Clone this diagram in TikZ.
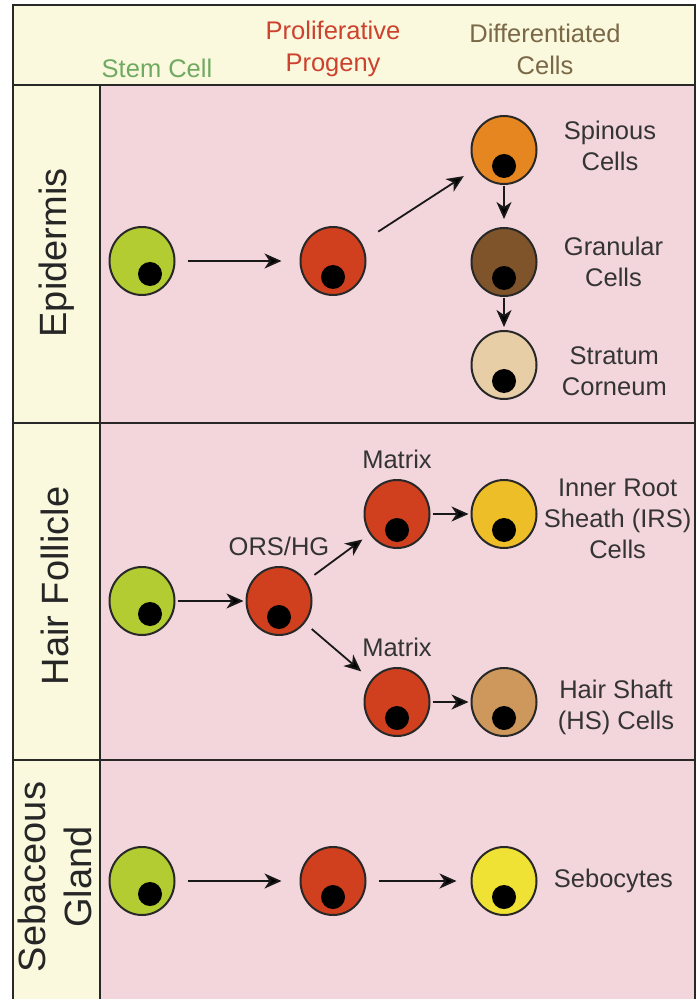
\documentclass[tikz,border=0pt]{standalone}
\usepackage{fontspec}
\setmainfont{Liberation Sans}
\usetikzlibrary{arrows.meta,positioning,shapes.geometric}

\definecolor{creamBg}{RGB}{250,248,221}
\definecolor{pinkBg}{RGB}{243,214,220}
\definecolor{rimc}{RGB}{40,40,40}
\definecolor{stemc}{RGB}{178,204,50}
\definecolor{progc}{RGB}{208,64,30}
\definecolor{spinc}{RGB}{230,134,32}
\definecolor{granc}{RGB}{128,84,42}
\definecolor{stratc}{RGB}{232,206,166}
\definecolor{irsc}{RGB}{238,190,40}
\definecolor{hsc}{RGB}{206,152,92}
\definecolor{sebc}{RGB}{240,226,52}
\definecolor{stemTxt}{RGB}{112,170,96}
\definecolor{progTxt}{RGB}{204,66,46}
\definecolor{diffTxt}{RGB}{122,104,70}
\definecolor{labelc}{RGB}{52,52,52}

\begin{document}
\begin{tikzpicture}[x=0.5pt,y=-0.5pt,>={Stealth[length=8.5pt,width=7.5pt,inset=2.5pt]},
    frame/.style={draw=rimc,line width=1.1pt},
    nucleus/.style 2 args={path picture={\fill[black] ([shift={(#1,#2)}]path picture bounding box.center) circle (6pt);}},
    cell/.style={ellipse,draw=rimc,line width=1pt,fill=#1,minimum width=32.5pt,minimum height=34pt,inner sep=0pt,nucleus={0pt}{-8pt}},
    stemcell/.style={cell=stemc,nucleus={4pt}{-6.5pt}},
    hdr/.style={font=\fontsize{12.75pt}{16pt}\selectfont,align=center},
    lbl/.style={font=\fontsize{12.75pt}{15.5pt}\selectfont,align=center,text=labelc,inner sep=0pt},
    side/.style={font=\fontsize{19pt}{23pt}\selectfont,rotate=90,align=center,text=black!85},
    arr/.style={->,draw=black!90,line width=0.9pt}]
  \useasboundingbox (0,0) rectangle (696,999);
  \clip (0,0) rectangle (696,999);

  % table background and rules
  \fill[creamBg] (13,5) rectangle (695,85);
  \fill[creamBg] (13,85) rectangle (100,1010);
  \fill[pinkBg] (100,85) rectangle (695,1010);
  \draw[frame] (13,1010) -- (13,5) -- (695,5) -- (695,1010);
  \draw[frame] (13,85) -- (695,85) (100,85) -- (100,1010)
    (13,423) -- (695,423) (13,760) -- (695,760);

  % column heads
  \node[hdr,text=stemTxt] (hStem) at (157,68) {Stem Cell};
  \node[hdr,text=progTxt] (hProg) at (333,49) {Proliferative\\Progeny};
  \node[hdr,text=diffTxt] (hDiff) at (545,49) {Differentiated\\Cells};

  % row heads
  \node[side] (rEpi) at (57,253) {Epidermis};
  \node[side] (rHair) at (55,586) {Hair Follicle};
  \node[side] (rSeb) at (55,877) {Sebaceous\\Gland};

  % epidermis
  \node[stemcell] (stemE) at (142,261) {};
  \node[cell=progc] (progE) at (333,261) {};
  \node[cell=spinc] (spin) at (504,150) {};
  \node[cell=granc] (gran) at (504,262) {};
  \node[cell=stratc] (strat) at (504,365) {};
  \node[lbl,right=13pt of spin,yshift=2pt] (spinL) {Spinous\\Cells};
  \node[lbl,right=13pt of gran] (granL) {Granular\\Cells};
  \node[lbl,right=12pt of strat,yshift=-3pt] (stratL) {Stratum\\Corneum};
  \path[arr] (stemE) edge[shorten <=6pt,shorten >=9pt] (progE)
    (progE) edge[shorten <=10pt,shorten >=7pt] (spin)
    (spin) edge[shorten <=0.5pt,shorten >=4pt] (gran)
    (gran) edge[shorten <=0.5pt,shorten >=1.5pt] (strat);

  % hair follicle
  \node[stemcell] (stemH) at (142,601) {};
  \node[cell=progc] (ors) at (279,601) {};
  \node[cell=progc] (matA) at (397,514) {};
  \node[cell=irsc] (irs) at (504,514) {};
  \node[cell=progc] (matB) at (397,702) {};
  \node[cell=hsc] (hs) at (504,702) {};
  \node[lbl,above=5pt of ors] (orsL) {ORS/HG};
  \node[lbl,above=5pt of matA] (matAL) {Matrix};
  \node[lbl,above=5pt of matB] (matBL) {Matrix};
  \node[lbl,right=3pt of irs,yshift=-2.5pt] (irsL) {Inner Root\\Sheath (IRS)\\Cells};
  \node[lbl,right=10pt of hs,yshift=-2.5pt] (hsL) {Hair Shaft\\(HS) Cells};
  \path[arr] (stemH) edge[shorten <=1pt,shorten >=1pt] (ors)
    (ors) edge[shorten <=5pt,shorten >=4.5pt] (matA)
    edge[shorten <=4.5pt,shorten >=6.5pt] (matB)
    (matA) edge[shorten <=1pt,shorten >=1pt] (irs)
    (matB) edge[shorten <=1pt,shorten >=1pt] (hs);

  % sebaceous gland
  \node[stemcell] (stemS) at (142,881) {};
  \node[cell=progc] (progS) at (333,881) {};
  \node[cell=sebc] (seb) at (504,881) {};
  \node[lbl,right=8pt of seb] (sebL) {Sebocytes};
  \path[arr] (stemS) edge[shorten <=6pt,shorten >=9pt] (progS)
    (progS) edge[shorten <=6pt,shorten >=7pt] (seb);
\end{tikzpicture}
\end{document}
